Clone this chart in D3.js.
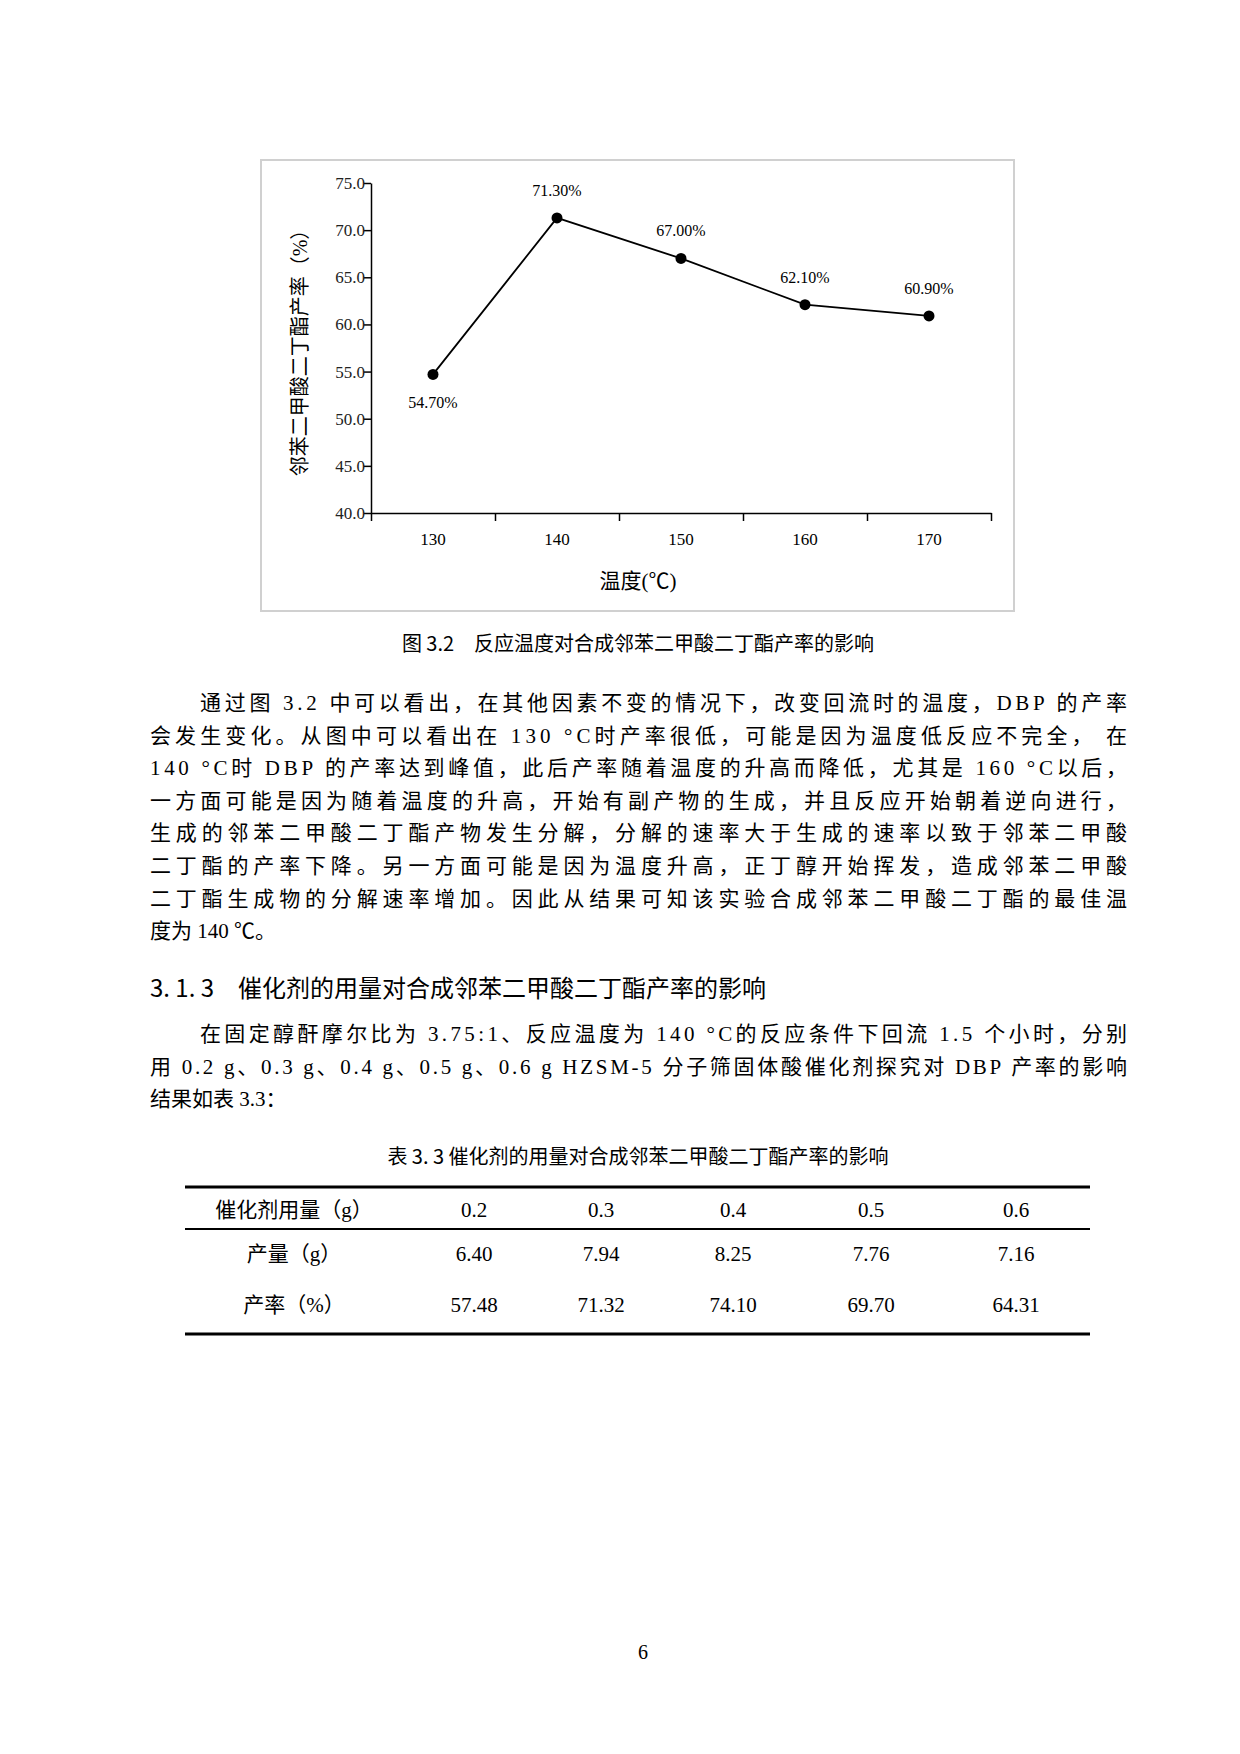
<!DOCTYPE html><html><head><meta charset="utf-8"><script src="https://cdn.jsdelivr.net/npm/d3@7"></script>
<style>body{margin:0;background:#fff}</style></head><body><svg id="s" width="1240" height="1754"></svg><script>
const temps=[130,140,150,160,170];
const yields=[54.7,71.3,67.0,62.1,60.9];
const yLabels=["54.70%","71.30%","67.00%","62.10%","60.90%"];
const yTicks=[40,45,50,55,60,65,70,75];
const tableHead=["催化剂用量（g）","0.2","0.3","0.4","0.5","0.6"];
const tableRow1=["产量（g）","6.40","7.94","8.25","7.76","7.16"];
const tableRow2=["产率（%）","57.48","71.32","74.10","69.70","64.31"];
const para1=["通过图 3.2 中可以看出，在其他因素不变的情况下，改变回流时的温度，DBP 的产率","会发生变化。从图中可以看出在 130 °C时产率很低，可能是因为温度低反应不完全， 在","140 °C时 DBP 的产率达到峰值，此后产率随着温度的升高而降低，尤其是 160 °C以后，","一方面可能是因为随着温度的升高，开始有副产物的生成，并且反应开始朝着逆向进行，","生成的邻苯二甲酸二丁酯产物发生分解，分解的速率大于生成的速率以致于邻苯二甲酸","二丁酯的产率下降。另一方面可能是因为温度升高，正丁醇开始挥发，造成邻苯二甲酸","二丁酯生成物的分解速率增加。因此从结果可知该实验合成邻苯二甲酸二丁酯的最佳温","度为 140 ℃。"];
const para2=["在固定醇酐摩尔比为 3.75:1、反应温度为 140 °C的反应条件下回流 1.5 个小时，分别","用 0.2 g、0.3 g、0.4 g、0.5 g、0.6 g HZSM-5 分子筛固体酸催化剂探究对 DBP 产率的影响","结果如表 3.3："];
const svg=d3.select("#s");
const F='"Liberation Serif","Noto Sans CJK SC",serif';
svg.append("rect").attr("x",261).attr("y",160).attr("width",753).attr("height",451).attr("fill","none").attr("stroke","#d0d0d0").attr("stroke-width",2);
const x=d3.scaleLinear().domain([125,175]).range([371,991]);
const y=d3.scaleLinear().domain([40,75]).range([513,183]);
const g=svg.append("g").style("font-family",F).style("font-size","17px");
const ya=g.append("g").attr("transform","translate(371,0)").call(d3.axisLeft(y).tickValues(yTicks).tickFormat(d3.format(".1f")).tickSize(7).tickSizeOuter(0));
const xa=g.append("g").attr("transform","translate(0,513)").call(d3.axisBottom(x).tickValues([125,135,145,155,165,175]).tickFormat("").tickSize(8).tickSizeOuter(0));
[ya,xa].forEach(a=>{a.selectAll("path,line").attr("stroke","#000").attr("stroke-width",1.5);a.selectAll("text").attr("font-family",F).attr("font-size",17).attr("fill","#222")});
ya.selectAll("text").attr("x",-6);
g.selectAll(".xl").data(temps).join("text").attr("x",d=>x(d)).attr("y",545).attr("text-anchor","middle").text(d=>d);
g.append("path").datum(temps.map((t,i)=>[t,yields[i]])).attr("d",d3.line().x(d=>x(d[0])).y(d=>y(d[1]))).attr("fill","none").attr("stroke","#000").attr("stroke-width",1.8);
g.selectAll("circle").data(temps).join("circle").attr("cx",d=>x(d)).attr("cy",(d,i)=>y(yields[i])).attr("r",5.5).attr("fill","#000");
g.selectAll(".dl").data(temps).join("text").attr("x",d=>x(d)).attr("y",(d,i)=>i==0?y(yields[i])+34:y(yields[i])-22).attr("text-anchor","middle").attr("font-size",16).text((d,i)=>yLabels[i]);
g.append("text").attr("x",638).attr("y",588).attr("text-anchor","middle").attr("font-size",21).text("温度(℃)");
g.append("text").attr("transform","translate(307,348) rotate(-90)").attr("text-anchor","middle").attr("font-size",20).text("邻苯二甲酸二丁酯产率（%）");
const T=svg.append("g").style("font-family",F).attr("fill","#000");
T.append("text").attr("x",638).attr("y",651).attr("text-anchor","middle").attr("font-size",20).style("font-family",'"Noto Sans CJK SC"').text("图 3.2　反应温度对合成邻苯二甲酸二丁酯产率的影响");
function para(lines,y0,first){lines.forEach((l,i)=>{const xs=i==0?first:150;const t=T.append("text").attr("x",xs).attr("y",y0+i*32.6).attr("font-size",21).text(l);if(i<lines.length-1)t.attr("textLength",1127-xs).attr("lengthAdjust","spacing");});}
para(para1,710,200);
T.append("text").attr("x",150).attr("y",997).attr("font-size",24).style("font-family",'"Noto Sans CJK SC"').text("3. 1. 3　催化剂的用量对合成邻苯二甲酸二丁酯产率的影响");
para(para2,1041,200);
T.append("text").attr("x",638).attr("y",1164).attr("text-anchor","middle").attr("font-size",20).style("font-family",'"Noto Sans CJK SC"').text("表 3. 3  催化剂的用量对合成邻苯二甲酸二丁酯产率的影响");
[[1187,3],[1229,2],[1334,3]].forEach(([yy,w])=>T.append("line").attr("x1",185).attr("x2",1090).attr("y1",yy).attr("y2",yy).attr("stroke","#000").attr("stroke-width",w));
const cx=[294,474,601,733,871,1016];
[[tableHead,1217],[tableRow1,1261],[tableRow2,1312]].forEach(([r,yy])=>r.forEach((v,i)=>T.append("text").attr("x",cx[i]).attr("y",yy).attr("text-anchor","middle").attr("font-size",21).text(v)));
T.append("text").attr("x",643).attr("y",1659).attr("text-anchor","middle").attr("font-size",20).text("6");
</script></body></html>
